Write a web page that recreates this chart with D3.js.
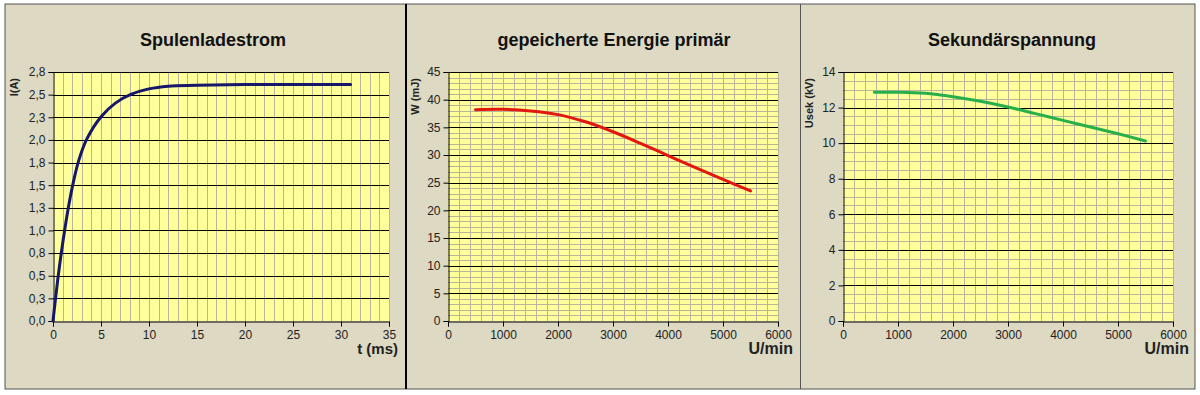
<!DOCTYPE html>
<html>
<head>
<meta charset="utf-8">
<script src="https://cdn.jsdelivr.net/npm/d3@7"></script>
<style>
  body { margin: 0; background: #ffffff; }
  svg { display: block; font-family: "Liberation Sans", Arial, sans-serif; }
</style>
</head>
<body>
<div id="chart"></div>
<script>
// ---- data ----
// Spulenladestrom: coil current I (A) over time t (ms)
const tMs = [0, 0.5, 0.87, 1.56, 2.0, 2.67, 3.54, 5.03, 6.5, 8.16, 10, 12, 15, 20, 25, 31];
const currentA = [0, 0.47, 0.77, 1.25, 1.5, 1.8, 2.05, 2.3, 2.45, 2.55, 2.61, 2.64, 2.65, 2.66, 2.66, 2.66];

// gepeicherte Energie primär: W (mJ) over rpm
const rpmEnergy = [500, 1000, 1500, 2000, 2500, 3000, 3500, 4000, 4500, 5000, 5500];
const energyMJ = [38.2, 38.25, 37.95, 37.3, 36.0, 34.2, 32.1, 29.9, 27.7, 25.6, 23.5];

// Sekundärspannung: Usek (kV) over rpm
const rpmVoltage = [570, 1000, 1500, 2000, 2500, 3000, 3500, 4000, 4500, 5000, 5500];
const voltageKV = [12.86, 12.86, 12.8, 12.61, 12.35, 12.03, 11.66, 11.28, 10.91, 10.53, 10.12];

// tick values / labels
const currentTicks = [0, 0.2545, 0.509, 0.7636, 1.0182, 1.2727, 1.5273, 1.7818, 2.0364, 2.2909, 2.5455, 2.8];
const currentTickLabels = ["0,0", "0,3", "0,5", "0,8", "1,0", "1,3", "1,5", "1,8", "2,0", "2,3", "2,5", "2,8"];
const timeTicks = [0, 5, 10, 15, 20, 25, 30, 35];
const rpmTicks = [0, 1000, 2000, 3000, 4000, 5000, 6000];
const energyTicks = [0, 5, 10, 15, 20, 25, 30, 35, 40, 45];
const voltageTicks = [0, 2, 4, 6, 8, 10, 12, 14];

const W = 1200, H = 395;
const beige = "#ddd9c3";
const plotFill = "#ffff9c";
const minorColor = "#b9b596";

const svg = d3.select("#chart").append("svg")
    .attr("width", W)
    .attr("height", H);

// chart area background + frame
svg.append("rect")
    .attr("x", 5).attr("y", 4)
    .attr("width", 1190).attr("height", 385)
    .attr("fill", beige)
    .attr("stroke", "#555")
    .attr("stroke-width", 1);

svg.append("line")
    .attr("x1", 406).attr("x2", 406).attr("y1", 4).attr("y2", 389)
    .attr("stroke", "#000").attr("stroke-width", 2);
svg.append("line")
    .attr("x1", 800.5).attr("x2", 800.5).attr("y1", 4).attr("y2", 389)
    .attr("stroke", "#555").attr("stroke-width", 1);

function drawPanel(p) {
    const g = svg.append("g");
    const x = d3.scaleLinear().domain(p.xDomain).range([p.left, p.right]);
    const y = d3.scaleLinear().domain(p.yDomain).range([p.bottom, p.top]);

    // plot area
    g.append("rect")
        .attr("x", p.left).attr("y", p.top)
        .attr("width", p.right - p.left).attr("height", p.bottom - p.top)
        .attr("fill", plotFill);

    // minor vertical gridlines
    g.append("g").selectAll("line")
        .data(d3.range(p.xDomain[0] + p.xMinor, p.xDomain[1] + p.xMinor / 2, p.xMinor))
        .enter().append("line")
        .attr("x1", d => Math.round(x(d)) + 0.5)
        .attr("x2", d => Math.round(x(d)) + 0.5)
        .attr("y1", p.top).attr("y2", p.bottom)
        .attr("stroke", minorColor).attr("stroke-width", 1);

    // minor horizontal gridlines
    if (p.yMinor) {
        g.append("g").selectAll("line")
            .data(d3.range(p.yDomain[0] + p.yMinor, p.yDomain[1], p.yMinor))
            .enter().append("line")
            .attr("x1", p.left).attr("x2", p.right)
            .attr("y1", d => Math.round(y(d)) + 0.5)
            .attr("y2", d => Math.round(y(d)) + 0.5)
            .attr("stroke", minorColor).attr("stroke-width", 1);
    }

    // major horizontal gridlines
    g.append("g").selectAll("line")
        .data(p.yTicks.slice(1))
        .enter().append("line")
        .attr("x1", p.left).attr("x2", p.right)
        .attr("y1", d => Math.round(y(d)) + 0.5)
        .attr("y2", d => Math.round(y(d)) + 0.5)
        .attr("stroke", "#000").attr("stroke-width", 1);

    // axes
    const yAxis = g.append("g")
        .attr("transform", `translate(${p.left + 0.5},0)`)
        .call(d3.axisLeft(y).tickValues(p.yTicks).tickSize(5).tickPadding(3)
            .tickFormat((d, i) => p.yLabels ? p.yLabels[i] : String(d)));
    const xAxis = g.append("g")
        .attr("transform", `translate(0,${p.bottom + 0.5})`)
        .call(d3.axisBottom(x).tickValues(p.xTicks).tickSize(5).tickPadding(4)
            .tickFormat(d => String(d)));

    [xAxis, yAxis].forEach(a => {
        a.select(".domain").attr("stroke", "#000");
        a.selectAll(".tick line").attr("stroke", "#000");
        a.selectAll("text")
            .style("font-family", "'Liberation Sans', Arial, sans-serif")
            .style("font-size", "12px")
            .attr("fill", "#222");
    });

    // series
    const line = d3.line()
        .x(d => x(d[0]))
        .y(d => y(d[1]))
        .curve(d3.curveCatmullRom.alpha(0.5));
    g.append("path")
        .datum(d3.zip(p.xs, p.ys))
        .attr("d", line)
        .attr("fill", "none")
        .attr("stroke", p.color)
        .attr("stroke-width", 3)
        .attr("stroke-linecap", "round");

    // titles
    g.append("text")
        .attr("x", p.titleX).attr("y", 46)
        .attr("text-anchor", "middle")
        .style("font-size", "18px")
        .style("font-weight", "bold")
        .attr("fill", "#111")
        .text(p.title);

    g.append("text")
        .attr("transform", `translate(${p.yTitleX},${p.top + 6}) rotate(-90)`)
        .attr("text-anchor", "end")
        .style("font-size", "11px")
        .style("font-weight", "bold")
        .attr("fill", "#222")
        .text(p.yTitle);

    g.append("text")
        .attr("x", p.xTitleX).attr("y", 354)
        .attr("text-anchor", "end")
        .style("font-size", p.xTitleSize)
        .style("font-weight", "bold")
        .attr("fill", "#222")
        .text(p.xTitle);
}

drawPanel({
    left: 53, right: 389, top: 72, bottom: 321,
    xDomain: [0, 35], yDomain: [0, 2.8],
    xTicks: timeTicks, yTicks: currentTicks, yLabels: currentTickLabels,
    xMinor: 1, yMinor: null,
    xs: tMs, ys: currentA, color: "#16166a",
    title: "Spulenladestrom", titleX: 213,
    yTitle: "I(A)", yTitleX: 18,
    xTitle: "t (ms)", xTitleX: 398, xTitleSize: "15px"
});

drawPanel({
    left: 448, right: 778, top: 72, bottom: 321,
    xDomain: [0, 6000], yDomain: [0, 45],
    xTicks: rpmTicks, yTicks: energyTicks,
    xMinor: 200, yMinor: 1,
    xs: rpmEnergy, ys: energyMJ, color: "#e3170f",
    title: "gepeicherte Energie primär", titleX: 614,
    yTitle: "W (mJ)", yTitleX: 419,
    xTitle: "U/min", xTitleX: 793, xTitleSize: "16px"
});

drawPanel({
    left: 843, right: 1173, top: 72, bottom: 321,
    xDomain: [0, 6000], yDomain: [0, 14],
    xTicks: rpmTicks, yTicks: voltageTicks,
    xMinor: 200, yMinor: 0.5,
    xs: rpmVoltage, ys: voltageKV, color: "#27b04a",
    title: "Sekundärspannung", titleX: 1012,
    yTitle: "Usek (kV)", yTitleX: 813,
    xTitle: "U/min", xTitleX: 1189, xTitleSize: "16px"
});
</script>
</body>
</html>
